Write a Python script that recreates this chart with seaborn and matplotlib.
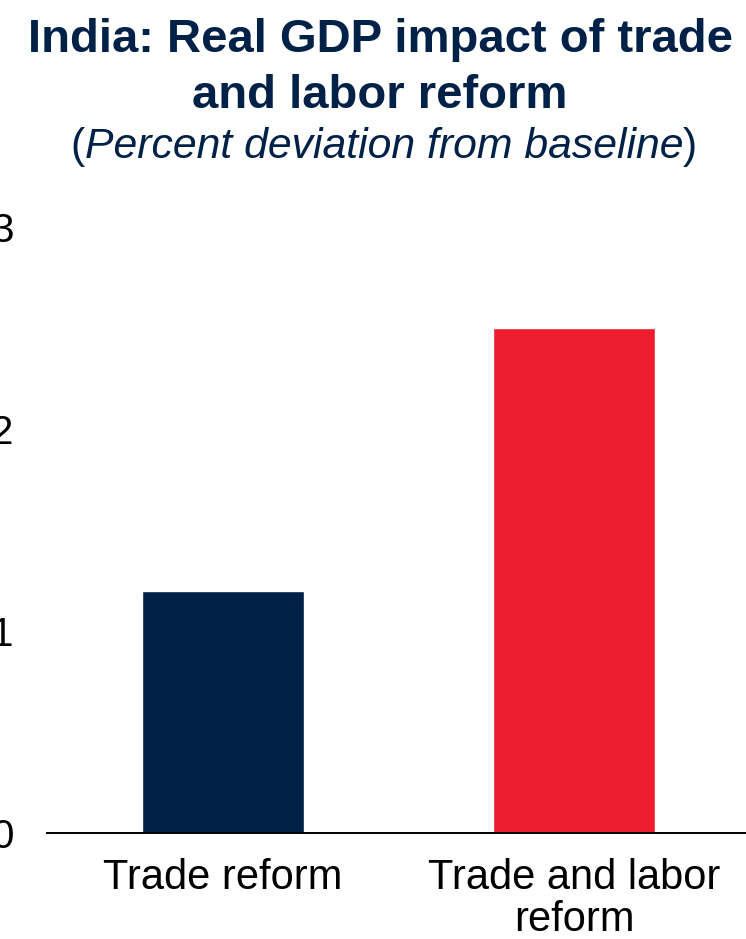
import matplotlib
matplotlib.use("Agg")
import matplotlib.pyplot as plt
import seaborn as sns
import pandas as pd

# Data
scenarios = ["Trade reform", "Trade and labor\nreform"]
gdp_impact = [1.2, 2.5]
bar_colors = ["#002147", "#ED1C2E"]
y_ticks = [0, 1, 2, 3]

NAVY = "#002147"

sns.set_theme(style="white")
plt.rcParams["font.family"] = ["Liberation Sans", "DejaVu Sans"]

df = pd.DataFrame({"scenario": scenarios, "impact": gdp_impact})

W, H = 746, 939
fig = plt.figure(figsize=(W / 100, H / 100), dpi=100)

# axes in pixel terms
left_px, right_px = 47, 750
bottom_px, top_px = 833, 227
ax = fig.add_axes([left_px / W, (H - bottom_px) / H,
                   (right_px - left_px) / W, (bottom_px - top_px) / H])

sns.barplot(data=df, x="scenario", y="impact", hue="scenario",
            palette=bar_colors, width=0.46, saturation=1, legend=False, ax=ax)

ax.set_xlim(-0.5, 1.5)
ax.set_ylim(0, 3)
ax.set_yticks(y_ticks)
ax.set_xlabel("")
ax.set_ylabel("")
for s in ["top", "right", "left"]:
    ax.spines[s].set_visible(False)
ax.spines["bottom"].set_color("black")
ax.spines["bottom"].set_linewidth(1.4)
ax.tick_params(axis="y", length=0, pad=24, labelsize=29, labelcolor="black")
ax.tick_params(axis="x", length=0, pad=18, labelsize=30, labelcolor="black")
for lab in ax.get_xticklabels():
    lab.set_linespacing(1.08)
    lab.set_ha("center")

# Title
fig.text(380 / W, 1 - 52 / H, "India: Real GDP impact of trade",
         ha="center", va="baseline", fontsize=34, fontweight="bold", color=NAVY)
fig.text(380 / W, 1 - 108 / H, "and labor reform",
         ha="center", va="baseline", fontsize=34, fontweight="bold", color=NAVY)

# Subtitle: upright parentheses around italic text
sub_y = 1 - 158 / H
parts = [("(", "normal"), ("Percent deviation from baseline", "italic"), (")", "normal")]
texts = [fig.text(0, sub_y, t, ha="left", va="baseline", fontsize=30.8,
                  style=st, color=NAVY) for t, st in parts]
fig.canvas.draw()
r = fig.canvas.get_renderer()
widths = [t.get_window_extent(r).width for t in texts]
x = 384 - sum(widths) / 2
for t, w in zip(texts, widths):
    t.set_x(x / W)
    x += w

fig.savefig("out.png", dpi=100)
